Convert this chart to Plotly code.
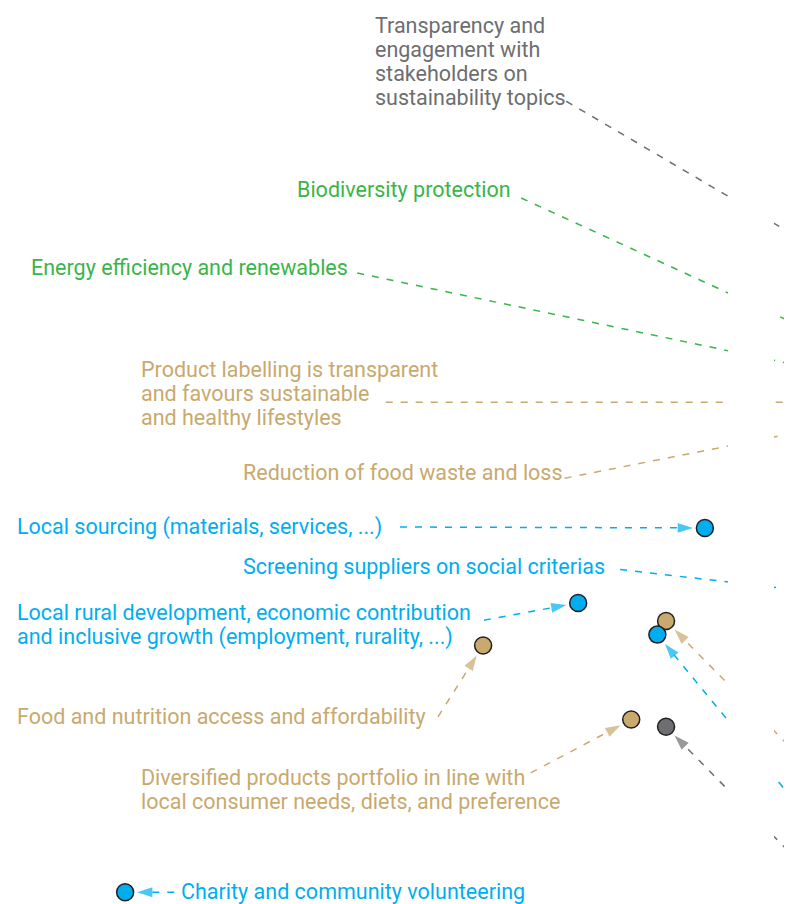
import plotly.graph_objects as go

# the page body has an 8px margin; the figure fills the rest of the 792x904 window
W, H = 784, 896
FONT = "Roboto, sans-serif"

# ---------------- data (importance scores, 0-100 scale; >100 = beyond the visible window)
topics = [
    "Transparency and engagement with stakeholders on sustainability topics",
    "Biodiversity protection",
    "Energy efficiency and renewables",
    "Product labelling is transparent and favours sustainable and healthy lifestyles",
    "Reduction of food waste and loss",
    "Local sourcing (materials, services, ...)",
    "Screening suppliers on social criterias",
    "Local rural development, economic contribution and inclusive growth (employment, rurality, ...)",
    "Food and nutrition access and affordability",
    "Diversified products portfolio in line with local consumer needs, diets, and preference",
    "Charity and community volunteering",
    "(label outside view) A",
    "(label outside view) B",
    "(label outside view) C",
    "(label outside view) D",
]
pillar = ["gov", "env", "env", "prod", "prod", "soc", "soc", "soc", "prod", "prod", "soc",
          "gov", "prod", "soc", "gov"]
imp_x = [106.1, 106.1, 106.1, 106.1, 106.1, 89.0, 106.1, 73.0, 61.0, 79.7, 15.8,
         84.1, 84.1, 83.0, 100.8]
imp_y = [71.0, 61.9, 58.6, 55.5, 53.1, 41.6, 34.2, 33.3, 28.6, 20.4, 1.3,
         19.6, 31.3, 29.8, 41.2]

# connector tails (where the dashed leader line leaves the label)
tail_x = [71.5, 65.8, 45.1, 48.7, 71.3, 50.5, 78.3, 61.1, 55.3, 67.0, 22.0,
          106.1, 106.1, 106.1, None]
tail_y = [88.8, 78.1, 69.8, 55.5, 47.1, 41.7, 37.0, 31.4, 20.7, 14.5, 1.3,
          0.0, 11.7, 5.2, None]

# label text lines and their placement (left edge, first line centre)
label_lines = [
    ["Transparency and", "engagement with", "stakeholders on", "sustainability topics"],
    ["Biodiversity protection"],
    ["Energy efficiency and renewables"],
    ["Product labelling is transparent", "and favours sustainable", "and healthy lifestyles"],
    ["Reduction of food waste and loss"],
    ["Local sourcing (materials, services, ...)"],
    ["Screening suppliers on social criterias"],
    ["Local rural development, economic contribution", "and inclusive growth (employment, rurality, ...)"],
    ["Food and nutrition access and affordability"],
    ["Diversified products portfolio in line with", "local consumer needs, diets, and preference"],
    ["Charity and community volunteering"],
]
label_x = [47.05, 37.25, 3.65, 17.55, 30.45, 1.85, 30.45, 1.85, 1.85, 17.55, 22.55]
label_y = [97.2, 79.0, 70.4, 59.1, 47.7, 41.7, 37.3, 32.2, 20.7, 14.0, 1.4]

COLORS = {"gov": "#6d6e71", "env": "#3ab54a", "prod": "#c8a96e", "soc": "#00aeef"}

fig = go.Figure()

# dashed leader lines with arrowheads
for i in range(len(topics)):
    if tail_x[i] is None:
        continue
    c = COLORS[pillar[i]]
    fig.add_trace(go.Scatter(
        x=[tail_x[i], imp_x[i]], y=[tail_y[i], imp_y[i]],
        mode="lines+markers",
        line=dict(color=c, width=1.5, dash="7px,8px"),
        marker=dict(symbol="arrow", size=[0, 16], angleref="previous", standoff=12,
                    color=c, line=dict(width=0)),
        hoverinfo="skip", showlegend=False,
    ))

# topic bubbles
fig.add_trace(go.Scatter(
    x=imp_x, y=imp_y, mode="markers", text=topics, hoverinfo="text",
    marker=dict(size=17, color=[COLORS[p] for p in pillar],
                line=dict(color="#231f20", width=1.5)),
    showlegend=False,
))

# white band interrupting leader lines
fig.add_shape(type="rect", xref="x", yref="y", x0=728 / 7.92, x1=774 / 7.92,
              y0=2.5, y1=85, fillcolor="white", line=dict(width=0), layer="above")

# labels
for i, lines in enumerate(label_lines):
    c = COLORS[pillar[i]]
    for j, t in enumerate(lines):
        fig.add_annotation(x=label_x[i], y=label_y[i], xref="x", yref="y", text=t,
                           showarrow=False, xanchor="left", yanchor="middle",
                           yshift=-24 * j,
                           font=dict(family=FONT, size=21.5, color=c))

fig.update_xaxes(range=[8 / 7.92, 100], visible=False, fixedrange=True)
fig.update_yaxes(range=[0, 896 / 9.04], visible=False, fixedrange=True)
fig.update_layout(width=W, height=H, margin=dict(l=0, r=0, t=0, b=0),
                  paper_bgcolor="white", plot_bgcolor="white",
                  font=dict(family=FONT))

fig.write_html("out.html")
